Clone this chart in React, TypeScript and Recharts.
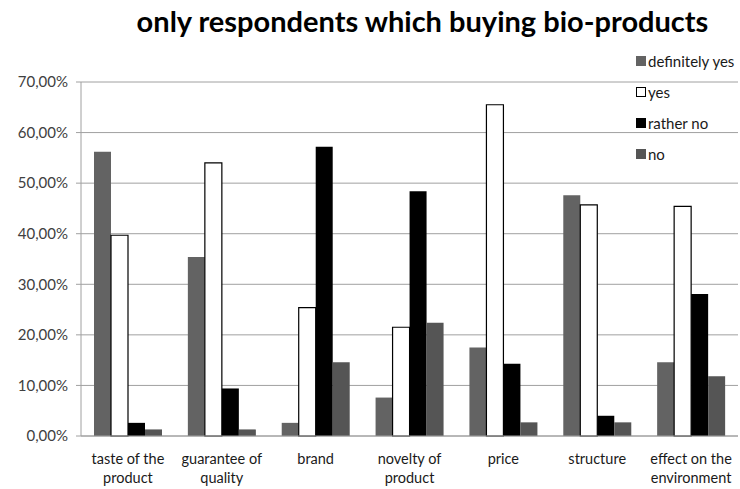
import React from "react";
import { BarChart, Bar, XAxis, YAxis, CartesianGrid } from "recharts";

const categories = [
  "taste of the\nproduct",
  "guarantee of\nquality",
  "brand",
  "novelty of\nproduct",
  "price",
  "structure",
  "effect on the\nenvironment",
];
const definitelyYes = [0.562, 0.354, 0.026, 0.076, 0.175, 0.476, 0.146];
const yes = [0.397, 0.54, 0.254, 0.215, 0.655, 0.457, 0.454];
const ratherNo = [0.026, 0.094, 0.572, 0.484, 0.143, 0.04, 0.281];
const no = [0.013, 0.013, 0.146, 0.224, 0.027, 0.027, 0.118];
const yTicks = [0, 0.1, 0.2, 0.3, 0.4, 0.5, 0.6, 0.7];
const title = "only respondents which buying bio-products";

const series = [
  { key: "definitelyYes", name: "definitely yes", fill: "#636363", stroke: "none" },
  { key: "yes", name: "yes", fill: "#ffffff", stroke: "#000000" },
  { key: "ratherNo", name: "rather no", fill: "#000000", stroke: "none" },
  { key: "no", name: "no", fill: "#555555", stroke: "none" },
];

const data = categories.map((c, i) => ({
  category: c,
  definitelyYes: definitelyYes[i],
  yes: yes[i],
  ratherNo: ratherNo[i],
  no: no[i],
}));

const FONT = "Lato, 'Open Sans', sans-serif";

const fmt = (v: number) => (v * 100).toFixed(2).replace(".", ",") + "%";

const XTick = (props: any) => {
  const { x, payload } = props;
  const lines = String(payload.value).split("\n");
  return (
    <g>
      {lines.map((l, i) => (
        <text key={i} x={x} y={464 + i * 19} textAnchor="middle" fontSize={14.5} fill="#1a1a1a" fontFamily={FONT}>
          {l}
        </text>
      ))}
    </g>
  );
};

const LegendBlock = () => (
  <div
    style={{
      position: "absolute",
      left: 636,
      top: 45,
      fontFamily: FONT,
      fontSize: 15,
      color: "#1a1a1a",
      zIndex: 3,
    }}
  >
    {series.map((s) => (
      <div key={s.key} style={{ display: "flex", alignItems: "center", height: 31, whiteSpace: "nowrap" }}>
        <span
          style={{
            display: "inline-block",
            width: 10,
            height: 10,
            background: s.fill,
            border: s.stroke === "none" ? "1px solid " + s.fill : "1px solid #000",
            marginRight: 2,
            boxSizing: "border-box",
          }}
        />
        <span>{s.name}</span>
      </div>
    ))}
  </div>
);

export default function App() {
  return (
    <div style={{ position: "absolute", left: 0, top: 0, width: 740, height: 489, background: "#fff" }}>
      <div
        style={{
          position: "absolute",
          left: 0,
          top: 3,
          width: 845,
          textAlign: "center",
          fontFamily: FONT,
          fontWeight: 700,
          fontSize: 29,
          color: "#000",
          zIndex: 2,
        }}
      >
        {title}
      </div>
      <LegendBlock />
      <BarChart
        width={740}
        height={489}
        data={data}
        margin={{ top: 82, right: 2, left: 0, bottom: 0 }}
        barCategoryGap={13}
        barGap={0}
      >
        <CartesianGrid vertical={false} stroke="#a0a0a0" strokeWidth={1} />
        <XAxis
          dataKey="category"
          interval={0}
          height={53}
          tick={<XTick />}
          tickLine={false}
          axisLine={{ stroke: "#a0a0a0" }}
        />
        <YAxis
          domain={[0, 0.7]}
          ticks={yTicks}
          tickFormatter={fmt}
          width={81}
          tick={{ fontSize: 15, fill: "#404040", fontFamily: FONT }}
          tickLine={{ stroke: "#a0a0a0" }}
          tickSize={5}
          tickMargin={8}
          axisLine={{ stroke: "#a0a0a0" }}
        />
        {series.map((s) => (
          <Bar
            key={s.key}
            dataKey={s.key}
            name={s.name}
            fill={s.fill}
            stroke={s.stroke}
            strokeWidth={s.stroke === "none" ? 0 : 1.2}
            isAnimationActive={false}
          />
        ))}
      </BarChart>
    </div>
  );
}
